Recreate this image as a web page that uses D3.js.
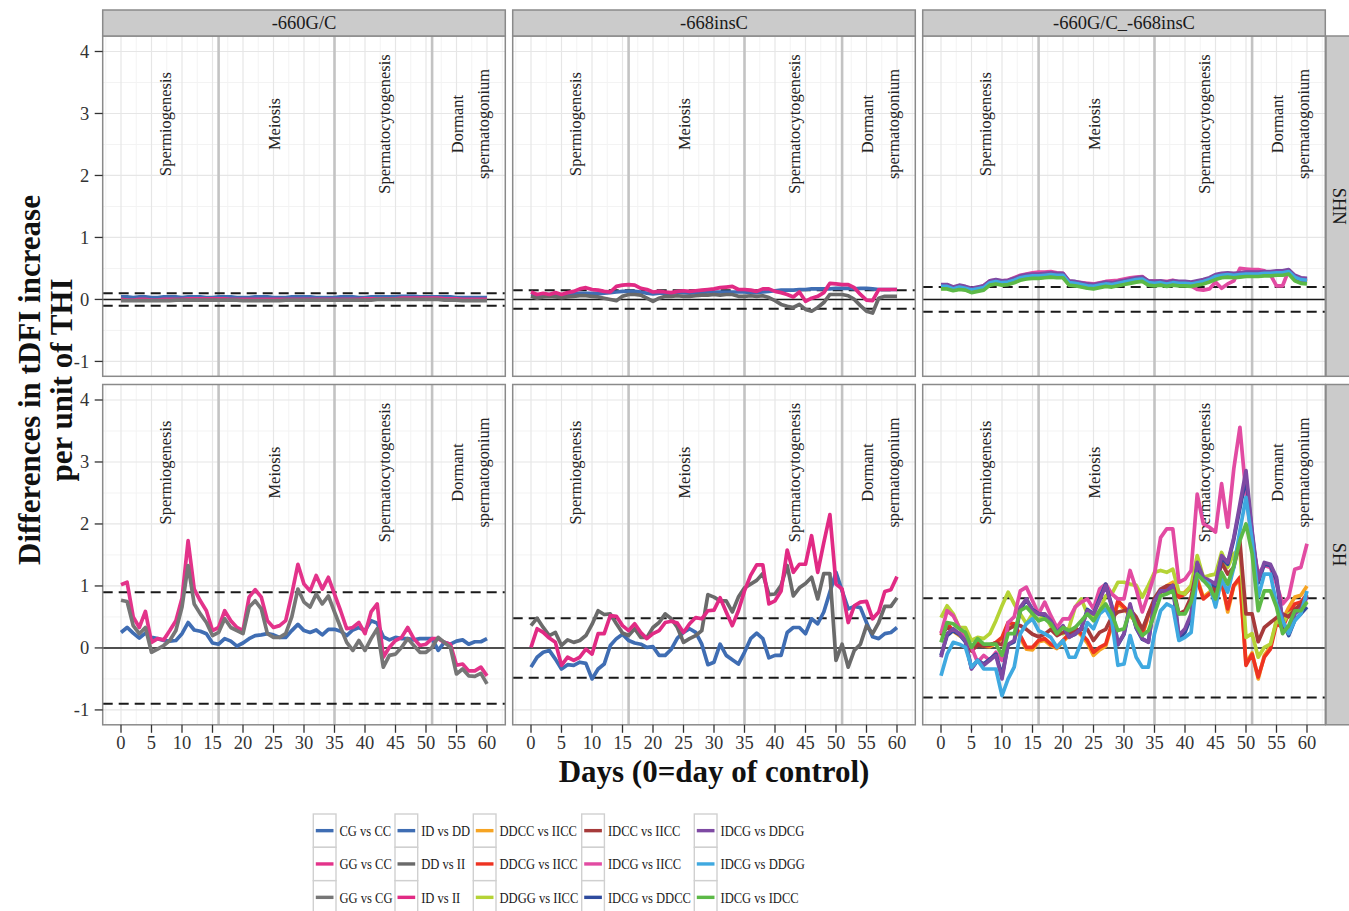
<!DOCTYPE html>
<html><head><meta charset="utf-8">
<script src="https://cdn.jsdelivr.net/npm/d3@7"></script>
<style>body{margin:0;background:#fff} text{font-family:"Liberation Serif","Times New Roman",serif}</style>
</head><body>
<script>
// ---------------- DATA ----------------
const days = [0,1,2,3,4,5,6,7,8,9,10,11,12,13,14,15,16,17,18,19,20,21,22,23,24,25,26,27,28,29,30,31,32,33,34,35,36,37,38,39,40,41,42,43,44,45,46,47,48,49,50,51,52,53,54,55,56,57,58,59,60];
const columns = ["-660G/C", "-668insC", "-660G/C_-668insC"];
const rowLabels = ["SHN", "SH"];
const yTicks = [-1, 0, 1, 2, 3, 4];
const xTicks = [0, 5, 10, 15, 20, 25, 30, 35, 40, 45, 50, 55, 60];
const phaseBounds = [16, 35, 51];
const phaseNames = [["Spermiogenesis"], ["Meiosis"], ["Spermatocytogenesis"], ["Dormant", "spermatogonium"]];
const phaseLabelDay = [7.3, 25.1, 43.2, 57.3];
const phaseLabelValue = 2.83;
const thresholdsSHN = [0.1, 0.15, 0.2];
const thresholdsSH = [0.9, 0.48, 0.8];

const legendNames = ["CG vs CC","GG vs CC","GG vs CG","ID vs DD","DD vs II","ID vs II","DDCC vs IICC","DDCG vs IICC","DDGG vs IICC","IDCC vs IICC","IDCG vs IICC","IDCG vs DDCC","IDCG vs DDCG","IDCG vs DDGG","IDCG vs IDCC"];
const legendColors = ["#3f6db3","#e3338a","#767676","#3f6db3","#6a6a6a","#e12a84","#f6a423","#ee3322","#b5d336","#a63a3a","#e24ba2","#2e4b9e","#7e4aa3","#3fa9e0","#5cb947"];

// SHN row
const shn_cg_cc = [0.04,0.04,0.03,0.04,0.04,0.03,0.03,0.04,0.04,0.04, 0.03,0.04,0.04,0.04,0.03,0.03,0.04,0.04,0.04,0.03, 0.03,0.03,0.04,0.04,0.04,0.03,0.03,0.03,0.04,0.04, 0.04,0.04,0.03,0.03,0.03,0.03,0.04,0.04,0.04,0.03, 0.03,0.04,0.04,0.04,0.04,0.04,0.05,0.05,0.05,0.04, 0.04,0.04,0.04,0.04,0.04,0.03,0.03,0.03,0.03,0.03,0.03];
const shn_gg_cc = [0,-0.01,-0.01,0,0,-0.01,-0.01,0,0,0, 0,0.01,0.01,0.01,0.01,0.01,0.01,0.01,0,0, 0,0,0,0,0,0,0,0,0,0, 0,0,0,0,0,0,0,0,0,0, 0.01,0.01,0.01,0.01,0.01,0.01,0.02,0.02,0.02,0.02, 0.02,0.02,0.02,0.01,0.01,0.01,0,0,0,0,0];
const shn_gg_cg = [-0.02,-0.02,-0.02,-0.02,-0.02,-0.02,-0.02,-0.02,-0.02,-0.01, -0.01,-0.01,-0.01,-0.01,-0.01,-0.01,-0.01,-0.01,-0.01,-0.01, -0.02,-0.02,-0.02,-0.02,-0.02,-0.02,-0.02,-0.01,-0.01,-0.01, -0.01,-0.01,-0.01,-0.01,-0.01,-0.01,-0.01,-0.01,-0.01,-0.01, -0.01,-0.01,0,0,0,0,0,0,0,0, 0,0,0,-0.01,-0.01,-0.01,-0.02,-0.02,-0.02,-0.02,-0.02];

const shn_id_dd = [0.08,0.07,0.08,0.08,0.07,0.07,0.08,0.09,0.1,0.1, 0.1,0.09,0.1,0.11,0.12,0.13,0.13,0.13,0.12,0.1, 0.09,0.1,0.1,0.1,0.11,0.11,0.1,0.11,0.11,0.12, 0.12,0.12,0.12,0.12,0.12,0.12,0.11,0.11,0.12,0.13, 0.14,0.15,0.15,0.15,0.16,0.16,0.17,0.17,0.17,0.17, 0.18,0.18,0.18,0.17,0.18,0.18,0.17,0.16,0.16,0.16,0.16];
const shn_dd_ii = [0.05,0.02,0.04,0.05,0.04,0.03,0.04,0.05,0.06,0.06, 0.05,0.04,0.02,0.0,-0.02,0.05,0.08,0.08,0.07,0.02, -0.03,0.02,0.05,0.05,0.06,0.05,0.05,0.06,0.07,0.07, 0.08,0.07,0.08,0.08,0.05,0.05,0.06,0.05,0.06,0.03, -0.02,-0.08,-0.11,-0.13,-0.08,-0.16,-0.19,-0.13,-0.05,0.08, 0.08,0.08,0.06,0.0,-0.1,-0.19,-0.22,0.02,0.05,0.05,0.05];
const shn_id_ii = [0.12,0.08,0.1,0.08,0.11,0.08,0.11,0.13,0.17,0.19, 0.16,0.15,0.13,0.12,0.21,0.23,0.24,0.23,0.18,0.16, 0.12,0.13,0.12,0.11,0.13,0.14,0.13,0.14,0.15,0.16, 0.17,0.19,0.2,0.21,0.16,0.16,0.15,0.13,0.17,0.17, 0.13,0.11,0.08,0.04,0.12,-0.03,0.02,0.05,0.11,0.26, 0.25,0.24,0.24,0.19,0.08,-0.01,-0.02,0.16,0.16,0.16,0.16];

const shn_ddcc_iicc = [0.19,0.19,0.15,0.18,0.16,0.13,0.15,0.17,0.25,0.27, 0.25,0.26,0.29,0.33,0.35,0.36,0.36,0.37,0.38,0.37, 0.37,0.25,0.24,0.22,0.2,0.19,0.21,0.23,0.22,0.24, 0.26,0.28,0.3,0.31,0.25,0.24,0.25,0.23,0.25,0.24, 0.24,0.23,0.25,0.27,0.3,0.35,0.37,0.38,0.37,0.38, 0.39,0.39,0.39,0.4,0.4,0.41,0.41,0.43,0.34,0.3,0.29];
const shn_ddcg_iicc = [0.2,0.19,0.16,0.18,0.17,0.13,0.16,0.17,0.25,0.28, 0.26,0.26,0.3,0.33,0.36,0.36,0.37,0.37,0.38,0.38, 0.37,0.26,0.24,0.23,0.2,0.2,0.21,0.24,0.22,0.25, 0.26,0.29,0.3,0.32,0.25,0.25,0.25,0.24,0.25,0.25, 0.24,0.24,0.25,0.28,0.3,0.36,0.37,0.39,0.37,0.39, 0.39,0.4,0.39,0.41,0.4,0.42,0.41,0.44,0.34,0.31,0.29];
const shn_ddgg_iicc = [0.18,0.18,0.15,0.17,0.16,0.12,0.14,0.16,0.24,0.26, 0.24,0.25,0.28,0.32,0.34,0.35,0.35,0.36,0.37,0.36, 0.36,0.24,0.23,0.21,0.19,0.18,0.2,0.22,0.21,0.23, 0.25,0.27,0.29,0.3,0.24,0.23,0.24,0.22,0.24,0.23, 0.23,0.22,0.24,0.26,0.29,0.34,0.36,0.37,0.36,0.37, 0.38,0.38,0.38,0.39,0.39,0.4,0.4,0.42,0.33,0.29,0.28];
const shn_idcc_iicc = [0.2,0.2,0.16,0.19,0.17,0.14,0.16,0.18,0.26,0.28, 0.26,0.27,0.3,0.34,0.36,0.37,0.37,0.38,0.39,0.38, 0.38,0.26,0.25,0.23,0.21,0.2,0.22,0.24,0.23,0.25, 0.27,0.29,0.31,0.32,0.26,0.25,0.26,0.24,0.26,0.25, 0.25,0.24,0.26,0.28,0.31,0.36,0.38,0.39,0.38,0.39, 0.4,0.4,0.4,0.41,0.41,0.42,0.42,0.44,0.35,0.31,0.3];
const shn_idcg_iicc = [0.23,0.22,0.19,0.22,0.2,0.17,0.19,0.22,0.3,0.31, 0.3,0.31,0.35,0.39,0.41,0.43,0.44,0.44,0.45,0.43, 0.42,0.29,0.28,0.27,0.26,0.25,0.27,0.29,0.3,0.31, 0.33,0.35,0.36,0.37,0.29,0.3,0.29,0.29,0.31,0.28, 0.27,0.22,0.16,0.15,0.17,0.28,0.18,0.25,0.3,0.5, 0.49,0.48,0.48,0.46,0.4,0.22,0.22,0.47,0.38,0.34,0.33];
const shn_idcg_ddcc = [0.22,0.22,0.18,0.21,0.19,0.16,0.18,0.2,0.28,0.3, 0.28,0.29,0.32,0.36,0.38,0.39,0.39,0.4,0.41,0.4, 0.4,0.28,0.27,0.25,0.23,0.22,0.24,0.26,0.25,0.27, 0.29,0.31,0.33,0.34,0.28,0.27,0.28,0.26,0.28,0.27, 0.27,0.26,0.28,0.3,0.33,0.38,0.4,0.41,0.4,0.41, 0.42,0.42,0.42,0.43,0.43,0.44,0.44,0.46,0.37,0.33,0.32];
const shn_idcg_ddcg = [0.24,0.24,0.2,0.23,0.21,0.18,0.2,0.22,0.3,0.32, 0.3,0.31,0.34,0.38,0.4,0.41,0.41,0.42,0.43,0.42, 0.42,0.3,0.29,0.27,0.25,0.24,0.26,0.28,0.27,0.29, 0.31,0.33,0.35,0.36,0.3,0.29,0.3,0.28,0.3,0.29, 0.29,0.28,0.3,0.32,0.35,0.4,0.42,0.43,0.42,0.43, 0.44,0.44,0.44,0.45,0.45,0.46,0.46,0.48,0.39,0.35,0.34];
const shn_idcg_ddgg = [0.21,0.21,0.17,0.2,0.18,0.15,0.17,0.19,0.27,0.29, 0.27,0.28,0.31,0.35,0.37,0.38,0.38,0.39,0.4,0.39, 0.39,0.27,0.26,0.24,0.22,0.21,0.23,0.25,0.24,0.26, 0.28,0.3,0.32,0.33,0.27,0.26,0.27,0.25,0.27,0.26, 0.26,0.25,0.27,0.29,0.32,0.37,0.39,0.4,0.39,0.4, 0.41,0.41,0.41,0.42,0.42,0.43,0.43,0.45,0.36,0.32,0.31];
const shn_idcg_idcc = [0.17,0.17,0.14,0.16,0.15,0.11,0.13,0.15,0.23,0.25, 0.23,0.24,0.27,0.31,0.33,0.34,0.34,0.35,0.36,0.35, 0.35,0.23,0.22,0.2,0.18,0.17,0.19,0.21,0.2,0.22, 0.24,0.26,0.28,0.29,0.23,0.22,0.23,0.21,0.23,0.22, 0.22,0.21,0.23,0.25,0.28,0.32,0.35,0.36,0.35,0.36, 0.37,0.37,0.37,0.38,0.38,0.39,0.39,0.41,0.3,0.26,0.25];

// SH row
const sh_cg_cc = [0.25,0.33,0.24,0.16,0.24,0.17,0.15,0.12,0.11,0.12, 0.23,0.41,0.29,0.27,0.23,0.08,0.06,0.15,0.11,0.03, 0.08,0.15,0.2,0.21,0.23,0.21,0.17,0.17,0.28,0.38, 0.28,0.25,0.29,0.21,0.3,0.3,0.27,0.2,0.29,0.33, 0.28,0.44,0.4,0.18,0.13,0.17,0.15,0.15,0.13,0.15, 0.15,0.15,-0.04,0.09,0.06,0.11,0.13,0.06,0.1,0.1,0.15];
const sh_gg_cc = [1.02,1.06,0.5,0.33,0.59,0.09,0.15,0.13,0.28,0.44, 0.8,1.73,0.95,0.76,0.6,0.28,0.33,0.6,0.44,0.33, 0.28,0.82,0.94,0.82,0.44,0.33,0.36,0.44,0.87,1.35, 1.03,0.92,1.17,0.95,1.14,0.87,0.6,0.31,0.33,0.41, 0.23,0.58,0.71,-0.15,0.01,0.12,0.17,0.33,0.15,0.04, 0.06,0.15,0.15,0.09,0.06,-0.28,-0.26,-0.37,-0.37,-0.31,-0.45];
const sh_gg_cg = [0.77,0.75,0.36,0.23,0.33,-0.07,-0.02,0.04,0.12,0.28, 0.66,1.33,0.71,0.55,0.41,0.2,0.25,0.47,0.33,0.28, 0.23,0.66,0.76,0.63,0.23,0.17,0.17,0.23,0.5,0.95, 0.74,0.66,0.87,0.71,0.84,0.58,0.33,0.09,-0.04,0.12, -0.04,0.15,0.31,-0.31,-0.12,-0.1,0.01,0.15,0.04,-0.07, -0.07,0.01,0.17,0.09,0.01,-0.42,-0.34,-0.45,-0.46,-0.41,-0.58];

const sh_id_dd = [-0.31,-0.15,-0.07,-0.04,-0.18,-0.34,-0.27,-0.28,-0.23,-0.25, -0.5,-0.34,-0.26,0.04,0.15,0.22,0.12,0.08,0.06,0.01, 0.02,-0.12,-0.12,-0.02,0.16,0.25,0.31,0.25,0.06,-0.27, -0.23,0.06,-0.12,-0.19,-0.26,-0.07,0.15,0.24,0.15,-0.16, -0.12,-0.12,0.25,0.33,0.33,0.23,0.47,0.39,0.58,0.9, 1.22,0.92,0.63,0.67,0.65,0.41,0.18,0.15,0.23,0.25,0.33];
const sh_dd_ii = [0.36,0.48,0.33,0.2,0.25,0.04,0.13,0.09,0.12,0.2, 0.38,0.6,0.54,0.55,0.39,0.24,0.2,0.31,0.17,0.17, 0.33,0.41,0.55,0.47,0.33,0.09,0.15,0.2,0.28,0.86, 0.82,0.76,0.76,0.58,0.82,0.97,1.03,1.09,1.2,0.86, 0.87,1.01,1.33,0.84,0.97,1.04,1.14,0.79,1.2,1.2, -0.2,0.06,-0.31,-0.04,0.06,0.36,0.23,0.41,0.67,0.67,0.81];
const sh_id_ii = [0.01,0.31,0.25,0.16,0.09,-0.28,-0.15,-0.2,-0.15,-0.02, -0.1,0.23,0.23,0.52,0.51,0.36,0.28,0.39,0.25,0.15, 0.23,0.28,0.41,0.43,0.4,0.25,0.39,0.49,0.47,0.6, 0.61,0.81,0.58,0.36,0.6,0.92,1.17,1.34,1.34,0.71, 0.76,0.92,1.58,1.22,1.35,1.35,1.81,1.22,1.7,2.15, 1.03,0.95,0.41,0.68,0.74,0.75,0.47,0.58,0.91,0.94,1.15];

const sh_ddcc_iicc = [0.2,0.35,0.27,0.2,0.15,-0.02,0.07,0.03,0.02,0.07, 0.15,0.38,0.36,0.16,-0.02,-0.03,0.1,0.12,0.04,-0.01, 0.1,0.2,0.3,0.2,0.08,-0.12,-0.03,0.03,0.36,0.72, 0.63,0.52,0.42,0.2,0.52,0.74,0.9,1.0,1.06,0.85, 0.9,1.0,1.12,0.82,0.9,0.95,1.08,0.58,1.0,1.1, -0.25,-0.08,-0.5,-0.12,0.02,0.45,0.45,0.65,0.82,0.85,1.0];
const sh_ddcg_iicc = [0.25,0.39,0.28,0.23,0.17,0.01,0.09,0.04,0.04,0.09, 0.17,0.41,0.39,0.2,0.01,0.01,0.12,0.15,0.06,0.01, 0.12,0.23,0.33,0.23,0.12,-0.07,0.01,0.06,0.39,0.76, 0.66,0.55,0.44,0.23,0.55,0.76,0.9,0.95,1.01,0.82, 0.87,0.98,1.09,0.79,0.87,0.92,1.06,0.63,1.01,1.14, -0.28,-0.1,-0.47,-0.15,-0.02,0.39,0.33,0.55,0.71,0.74,0.87];
const sh_ddgg_iicc = [0.49,0.68,0.55,0.33,0.33,0.12,0.17,0.15,0.23,0.44, 0.68,0.9,0.71,0.55,0.39,0.55,0.44,0.55,0.35,0.3, 0.23,0.33,0.66,0.79,0.55,0.49,0.6,0.84,0.87,1.06, 1.06,1.03,1.01,0.82,1.01,1.22,1.25,1.22,1.27,0.9, 0.87,1.01,1.49,1.14,1.17,1.19,1.54,1.3,1.52,1.6, 0.17,0.23,-0.15,0.01,0.06,0.44,0.39,0.55,0.6,0.66,0.76];
const sh_idcc_iicc = [0.2,0.33,0.28,0.22,0.15,-0.05,0.05,0.03,0.05,0.08, 0.05,0.3,0.36,0.36,0.3,0.22,0.18,0.22,0.3,0.2, 0.25,0.25,0.28,0.3,0.3,0.12,0.25,0.3,0.5,0.58, 0.6,0.62,0.5,0.3,0.55,0.8,0.95,1.0,1.0,0.55, 0.6,0.82,1.3,1.09,1.03,0.92,1.38,1.19,1.3,1.72, 0.55,0.55,0.1,0.33,0.41,0.49,0.55,0.5,0.62,0.7,0.85];
const sh_idcg_iicc = [0.23,0.6,0.52,0.33,0.15,0.01,-0.23,-0.12,-0.2,-0.07, -0.2,0.41,0.5,0.92,0.98,0.76,0.55,0.74,0.52,0.33, 0.47,0.47,0.66,0.74,0.79,0.63,0.95,1.03,0.87,0.79, 0.79,1.25,0.95,0.58,0.87,1.19,1.78,1.92,1.92,1.06, 1.11,1.25,2.48,2.0,1.95,1.87,2.65,1.95,2.89,3.56, 2.48,1.73,1.19,1.33,1.3,1.03,0.71,0.82,1.27,1.3,1.68];
const sh_idcg_ddcc = [-0.12,0.2,0.28,0.22,0.1,-0.33,-0.2,-0.26,-0.18,-0.1, -0.45,0.05,0.1,0.62,0.78,0.62,0.55,0.53,0.42,0.25, 0.35,0.18,0.22,0.32,0.62,0.55,0.8,1.03,0.68,0.05, 0.22,0.68,0.32,0.14,0.1,0.75,0.92,0.92,1.0,0.15, 0.25,0.5,1.35,1.1,1.05,1.0,1.45,1.35,1.75,2.25, 2.75,1.85,1.05,1.35,1.33,1.1,0.42,0.2,0.45,0.55,0.66];
const sh_idcg_ddcg = [-0.15,0.23,0.31,0.23,0.12,-0.34,-0.2,-0.28,-0.2,-0.12, -0.5,0.06,0.12,0.66,0.79,0.6,0.55,0.55,0.44,0.25, 0.36,0.17,0.23,0.31,0.6,0.55,0.76,1.01,0.66,0.06, 0.23,0.71,0.33,0.15,0.09,0.76,0.92,0.92,1.01,0.2, 0.31,0.55,1.38,1.14,1.09,1.03,1.49,1.38,1.78,2.32, 2.86,1.89,1.09,1.38,1.35,1.14,0.44,0.23,0.55,0.63,0.82];
const sh_idcg_ddgg = [-0.45,-0.1,0.09,0.06,0.01,-0.31,-0.2,-0.34,-0.34,-0.34, -0.77,-0.5,-0.31,0.23,0.39,0.47,0.28,0.23,0.17,0.01, 0.12,-0.15,-0.15,0.09,0.41,0.31,0.55,0.63,0.44,-0.28, -0.26,0.2,-0.15,-0.31,-0.31,0.23,0.6,0.71,0.66,0.12, 0.17,0.25,1.19,1.09,1.03,0.66,1.11,0.9,1.3,1.89, 2.43,1.73,0.82,1.19,1.19,0.71,0.44,0.23,0.44,0.55,0.92];
const sh_idcg_idcc = [0.09,0.41,0.39,0.31,0.25,0.01,0.15,0.06,0.06,0.06, -0.12,0.23,0.23,0.6,0.66,0.55,0.44,0.47,0.39,0.23, 0.33,0.28,0.33,0.44,0.55,0.44,0.6,0.71,0.55,0.28, 0.31,0.6,0.36,0.2,0.28,0.55,0.84,0.87,0.92,0.55, 0.55,0.74,1.19,1.09,0.98,0.79,1.22,1.03,1.33,1.73, 2.0,1.52,0.6,0.92,0.92,0.66,0.23,0.36,0.6,0.6,0.74];

// panel contents: [row][column] -> list of [series name, values]
const panels = [
  [
    [["CG vs CC", shn_cg_cc], ["GG vs CC", shn_gg_cc], ["GG vs CG", shn_gg_cg]],
    [["ID vs DD", shn_id_dd], ["DD vs II", shn_dd_ii], ["ID vs II", shn_id_ii]],
    [["DDCC vs IICC", shn_ddcc_iicc], ["DDCG vs IICC", shn_ddcg_iicc], ["DDGG vs IICC", shn_ddgg_iicc], ["IDCC vs IICC", shn_idcc_iicc], ["IDCG vs IICC", shn_idcg_iicc], ["IDCG vs DDCC", shn_idcg_ddcc], ["IDCG vs DDCG", shn_idcg_ddcg], ["IDCG vs DDGG", shn_idcg_ddgg], ["IDCG vs IDCC", shn_idcg_idcc]]
  ],
  [
    [["CG vs CC", sh_cg_cc], ["GG vs CC", sh_gg_cc], ["GG vs CG", sh_gg_cg]],
    [["ID vs DD", sh_id_dd], ["DD vs II", sh_dd_ii], ["ID vs II", sh_id_ii]],
    [["DDCC vs IICC", sh_ddcc_iicc], ["DDCG vs IICC", sh_ddcg_iicc], ["DDGG vs IICC", sh_ddgg_iicc], ["IDCC vs IICC", sh_idcc_iicc], ["IDCG vs IICC", sh_idcg_iicc], ["IDCG vs DDCC", sh_idcg_ddcc], ["IDCG vs DDCG", sh_idcg_ddcg], ["IDCG vs DDGG", sh_idcg_ddgg], ["IDCG vs IDCC", sh_idcg_idcc]]
  ]
];
const thresholds = [thresholdsSHN, thresholdsSH];

// ---------------- DRAW ----------------
const W = 1349, H = 911;
const svg = d3.select("body").append("svg").attr("width", W).attr("height", H);
svg.append("rect").attr("width", W).attr("height", H).attr("fill", "#fff");

const colX = [102.7, 512.7, 922.7], PW = 402.6;
const rowY = [36, 384.5], PH = 340.3;
const x = d3.scaleLinear().domain([-3, 63]).range([0, PW]);
const y = d3.scaleLinear().domain([-1.24, 4.25]).range([PH, 0]);
const color = d3.scaleOrdinal().domain(legendNames).range(legendColors);
const line = d3.line().x((d, i) => x(days[i])).y(d => y(d));

const xMinor = d3.range(-2.5, 63, 5);
const yMinor = d3.range(-0.5, 4.2, 1);

// condense a text element horizontally (reference font is narrower than Liberation Serif)
function condense(sel, f) {
  sel.each(function () {
    const L = this.getComputedTextLength();
    d3.select(this).attr("textLength", L * f).attr("lengthAdjust", "spacingAndGlyphs");
  });
}

rowLabels.forEach((rl, ri) => {
  columns.forEach((cl, ci) => {
    const g = svg.append("g").attr("transform", `translate(${colX[ci]},${rowY[ri]})`);
    g.append("rect").attr("width", PW).attr("height", PH).attr("fill", "#fff");
    // minor grid
    g.selectAll(".xm").data(xMinor).enter().append("line")
      .attr("x1", d => x(d)).attr("x2", d => x(d)).attr("y1", 0).attr("y2", PH)
      .attr("stroke", "#f3f3f3").attr("stroke-width", 1);
    g.selectAll(".ym").data(yMinor).enter().append("line")
      .attr("y1", d => y(d)).attr("y2", d => y(d)).attr("x1", 0).attr("x2", PW)
      .attr("stroke", "#f3f3f3").attr("stroke-width", 1);
    // major grid
    g.selectAll(".xg").data(xTicks).enter().append("line")
      .attr("x1", d => x(d)).attr("x2", d => x(d)).attr("y1", 0).attr("y2", PH)
      .attr("stroke", "#e6e6e6").attr("stroke-width", 1.2);
    g.selectAll(".yg").data(yTicks).enter().append("line")
      .attr("y1", d => y(d)).attr("y2", d => y(d)).attr("x1", 0).attr("x2", PW)
      .attr("stroke", "#e6e6e6").attr("stroke-width", 1.2);
    // phase boundaries
    g.selectAll(".pb").data(phaseBounds).enter().append("line")
      .attr("x1", d => x(d)).attr("x2", d => x(d)).attr("y1", 0).attr("y2", PH)
      .attr("stroke", "#c3c3c3").attr("stroke-width", 2.6);
    // phase labels
    phaseNames.forEach((lines, pi) => {
      const cx = x(phaseLabelDay[pi]), cy = y(phaseLabelValue);
      const n = lines.length, lh = 25.5;
      lines.forEach((t, li) => {
        const off = (li - (n - 1) / 2) * lh;
        g.append("text")
          .attr("transform", `translate(${cx + off},${cy}) rotate(-90)`)
          .attr("text-anchor", "middle").attr("dominant-baseline", "central")
          .attr("font-size", 16.4).attr("fill", "#222").text(t);
      });
    });
    // thresholds
    const th = thresholds[ri][ci];
    g.selectAll(".th").data([th, -th]).enter().append("line")
      .attr("y1", d => y(d)).attr("y2", d => y(d)).attr("x1", 0).attr("x2", PW)
      .attr("stroke", "#1a1a1a").attr("stroke-width", 2).attr("stroke-dasharray", "10,6");
    g.append("line").attr("y1", y(0)).attr("y2", y(0)).attr("x1", 0).attr("x2", PW)
      .attr("stroke", "#1a1a1a").attr("stroke-width", 1.6);
    // series
    panels[ri][ci].forEach(([name, vals]) => {
      g.append("path").datum(vals).attr("d", line)
        .attr("fill", "none").attr("stroke", color(name))
        .attr("stroke-width", 3.7).attr("stroke-linejoin", "round").attr("stroke-linecap", "butt");
    });
    // border
    g.append("rect").attr("width", PW).attr("height", PH).attr("fill", "none")
      .attr("stroke", "#8a8a8a").attr("stroke-width", 1.5);
  });
});

// top strips
columns.forEach((cl, ci) => {
  svg.append("rect").attr("x", colX[ci]).attr("y", 10).attr("width", PW).attr("height", 26)
    .attr("fill", "#cbcbcb").attr("stroke", "#8a8a8a").attr("stroke-width", 1.5);
  svg.append("text").attr("x", colX[ci] + PW / 2).attr("y", 23).attr("text-anchor", "middle")
    .attr("dominant-baseline", "central").attr("font-size", 18.5).attr("fill", "#1a1a1a").text(cl);
});
// right strips
rowLabels.forEach((rl, ri) => {
  svg.append("rect").attr("x", 1326).attr("y", rowY[ri]).attr("width", 30).attr("height", PH)
    .attr("fill", "#cbcbcb").attr("stroke", "#8a8a8a").attr("stroke-width", 1.5);
  svg.append("text").attr("transform", `translate(1339,${rowY[ri] + PH / 2}) rotate(90)`)
    .attr("text-anchor", "middle").attr("dominant-baseline", "central")
    .attr("font-size", 18.5).attr("fill", "#1a1a1a").text(rl);
});

// y axes
rowY.forEach(ry => {
  const ga = svg.append("g").attr("transform", `translate(${colX[0]},${ry})`);
  ga.selectAll(".t").data(yTicks).enter().append("line")
    .attr("x1", -8).attr("x2", 0).attr("y1", d => y(d)).attr("y2", d => y(d))
    .attr("stroke", "#333").attr("stroke-width", 1.3);
  ga.selectAll(".l").data(yTicks).enter().append("text")
    .attr("x", -13.5).attr("y", d => y(d)).attr("dy", "0.35em").attr("text-anchor", "end")
    .attr("font-size", 18.5).attr("fill", "#333").text(d => d);
});
// x axes
colX.forEach(cx => {
  const ga = svg.append("g").attr("transform", `translate(${cx},${rowY[1] + PH})`);
  ga.selectAll(".t").data(xTicks).enter().append("line")
    .attr("x1", d => x(d)).attr("x2", d => x(d)).attr("y1", 0).attr("y2", 8)
    .attr("stroke", "#333").attr("stroke-width", 1.3);
  ga.selectAll(".l").data(xTicks).enter().append("text")
    .attr("x", d => x(d)).attr("y", 24.5).attr("text-anchor", "middle")
    .attr("font-size", 18.5).attr("fill", "#333").text(d => d);
});

// axis titles
svg.append("text").attr("x", (colX[0] + colX[2] + PW) / 2).attr("y", 782)
  .attr("text-anchor", "middle").attr("font-size", 31).attr("font-weight", "bold")
  .attr("fill", "#111").text("Days (0=day of control)");
const yt = svg.append("text").attr("transform", "translate(40,380) rotate(-90)")
  .attr("text-anchor", "middle").attr("font-size", 31).attr("font-weight", "bold").attr("fill", "#111");
yt.append("tspan").attr("x", 0).attr("y", 0).text("Differences in tDFI increase");
yt.append("tspan").attr("x", 0).attr("y", 32).text("per unit of THI");

// legend (column-major, 3 rows)
const legColX = [313.3, 395, 473.3, 581.7, 694.3];
const legRowY = [814, 847.3, 880.7];
const keyW = 22.7, keyH = 33.3;
legendNames.forEach((nm, i) => {
  const c = Math.floor(i / 3), r = i % 3;
  const kx = legColX[c], ky = legRowY[r];
  svg.append("rect").attr("x", kx).attr("y", ky).attr("width", keyW).attr("height", keyH)
    .attr("fill", "#fff").attr("stroke", "#d0d0d0").attr("stroke-width", 1.4);
  svg.append("line").attr("x1", kx + 2.5).attr("x2", kx + keyW - 2.5)
    .attr("y1", ky + keyH / 2).attr("y2", ky + keyH / 2)
    .attr("stroke", legendColors[i]).attr("stroke-width", 3.4);
  const t = svg.append("text").attr("x", kx + keyW + 3.5).attr("y", ky + keyH / 2).attr("dy", "0.35em")
    .attr("font-size", 15.5).attr("fill", "#1a1a1a").text(nm);
  condense(t, 0.81);
});
</script>
</body></html>
